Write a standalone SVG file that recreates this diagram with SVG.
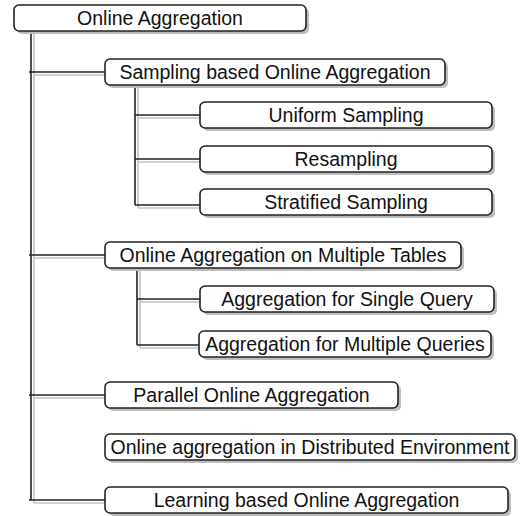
<svg xmlns="http://www.w3.org/2000/svg" width="523" height="516" viewBox="0 0 523 516">
<style>
.box{fill:#fff;stroke:#222;stroke-width:1.6}
.sh{fill:#bdbdbd;stroke:none}
.ln{fill:none;stroke:#222;stroke-width:1.6}
.lsh{fill:none;stroke:#c4c4c4;stroke-width:1.6}
text{font-family:"Liberation Sans",Arial,Helvetica,sans-serif;font-size:19.5px;fill:#111;text-anchor:middle}
</style>
<rect width="523" height="516" fill="#fff"/>
<g id="connectors">
<g class="lsh" transform="translate(3,3)">
<path d="M31 31V500M31 72H105M31 255H105M31 395H105M31 500H105"/>
<path d="M135 85V205M135 115H200M135 159H200M135 205H200"/>
<path d="M137 268V345M137 299H200M137 345H199"/>
</g>
<g class="ln">
<path d="M31 31V500M29 72H105M29 255H105M29 395H105M29 500H105"/>
<path d="M135 85V205M135 115H200M135 159H200M135 205H200"/>
<path d="M137 268V345M137 299H200M137 345H199"/>
</g>
</g>
<g id="n1"><rect class="sh" x="17" y="8" width="292" height="26" rx="5"/><rect class="box" x="14" y="5" width="292" height="26" rx="5"/><text x="160" y="25">Online Aggregation</text></g>
<g id="n2"><rect class="sh" x="108" y="62" width="340" height="26" rx="5"/><rect class="box" x="105" y="59" width="340" height="26" rx="5"/><text x="275" y="79">Sampling based Online Aggregation</text></g>
<g id="n3"><rect class="sh" x="203" y="105" width="292" height="26" rx="5"/><rect class="box" x="200" y="102" width="292" height="26" rx="5"/><text x="346" y="122">Uniform Sampling</text></g>
<g id="n4"><rect class="sh" x="203" y="149" width="292" height="26" rx="5"/><rect class="box" x="200" y="146" width="292" height="26" rx="5"/><text x="346" y="166">Resampling</text></g>
<g id="n5"><rect class="sh" x="203" y="192" width="292" height="26" rx="5"/><rect class="box" x="200" y="189" width="292" height="26" rx="5"/><text x="346" y="209">Stratified Sampling</text></g>
<g id="n6"><rect class="sh" x="108" y="245" width="356" height="26" rx="5"/><rect class="box" x="105" y="242" width="356" height="26" rx="5"/><text x="283" y="262">Online Aggregation on Multiple Tables</text></g>
<g id="n7"><rect class="sh" x="203" y="289" width="294" height="26" rx="5"/><rect class="box" x="200" y="286" width="294" height="26" rx="5"/><text x="347" y="306">Aggregation for Single Query</text></g>
<g id="n8"><rect class="sh" x="202" y="334" width="292" height="26" rx="5"/><rect class="box" x="199" y="331" width="292" height="26" rx="5"/><text x="345" y="351">Aggregation for Multiple Queries</text></g>
<g id="n9"><rect class="sh" x="108" y="385" width="293" height="26" rx="5"/><rect class="box" x="105" y="382" width="293" height="26" rx="5"/><text x="251.5" y="402">Parallel Online Aggregation</text></g>
<g id="n10"><rect class="sh" x="108" y="437" width="410" height="26" rx="5"/><rect class="box" x="105" y="434" width="410" height="26" rx="5"/><text x="310" y="454">Online aggregation in Distributed Environment</text></g>
<g id="n11"><rect class="sh" x="108" y="490" width="403" height="26" rx="5"/><rect class="box" x="105" y="487" width="403" height="26" rx="5"/><text x="306.5" y="507">Learning based Online Aggregation</text></g>
</svg>
